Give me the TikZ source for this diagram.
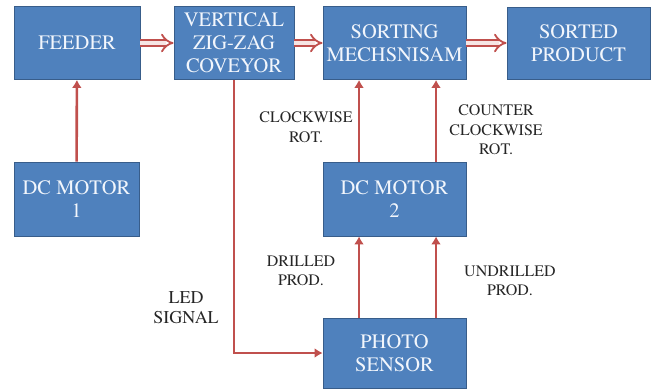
\documentclass[tikz,border=0pt]{standalone}
\usepackage{fontspec}
\setmainfont{TeX Gyre Termes}
\usetikzlibrary{arrows.meta}
\definecolor{boxblue}{HTML}{4F81BD}
\definecolor{boxedge}{HTML}{385D8A}
\definecolor{arrowred}{HTML}{C0504D}
\definecolor{boxtext}{HTML}{F2F6FC}
\tikzset{
  blk/.style={draw=boxedge, line width=0.9pt, fill=boxblue, text=boxtext, align=center,
    font=\fontsize{20.5}{23}\selectfont, inner sep=0pt},
  lbl/.style={align=center, text=black!85, font=\fontsize{16}{19.5}\selectfont, inner sep=0pt},
  redarrow/.style={draw=arrowred, line width=2.6pt, -{Latex[length=8pt,width=10pt]}},
  dblarrow/.style={draw=arrowred, double=arrowred!15!white, double distance=4.5pt, line width=1.8pt, -{Implies[length=8pt,width=20pt]}},
}
\begin{document}
\begin{tikzpicture}[x=1pt, y=-1pt]
\useasboundingbox (0,0) rectangle (652,390);
\node[blk, minimum width=126pt, minimum height=73pt] (feeder) at (77,43) {FEEDER};
\node[blk, minimum width=120pt, minimum height=73pt] (vert) at (234,43) {VERTICAL\\ZIG-ZAG\\COVEYOR};
\node[blk, minimum width=143pt, minimum height=73pt] (sort) at (394.5,43) {SORTING\\MECHSNISAM};
\node[blk, minimum width=143pt, minimum height=72pt] (sorted) at (578.5,43) {SORTED\\PRODUCT};
\node[blk, minimum width=125pt, minimum height=74pt] (dc1) at (76.5,199) {DC MOTOR\\1};
\node[blk, minimum width=143pt, minimum height=74pt] (dc2) at (394.5,199) {DC MOTOR\\2};
\node[blk, minimum width=143pt, minimum height=70pt] (photo) at (394.5,353) {PHOTO\\SENSOR};

\coordinate (cL) at (359,0);
\coordinate (cR) at (436,0);

\draw[dblarrow] (feeder) -- (vert);
\draw[dblarrow] (vert) -- (sort);
\draw[dblarrow] (sort) -- (sorted);

\draw[redarrow] (dc1) -- (feeder);
\draw[redarrow] (dc2.north -| cL) -- (sort.south -| cL);
\draw[redarrow] (dc2.north -| cR) -- (sort.south -| cR);
\draw[redarrow] (photo.north -| cL) -- (dc2.south -| cL);
\draw[redarrow] (photo.north -| cR) -- (dc2.south -| cR);
\draw[redarrow] (vert.south) |- (photo.west);

\node[lbl] (cw) at (306,127) {CLOCKWISE\\ROT.};
\node[lbl] (ccw) at (496,130) {COUNTER\\CLOCKWISE\\ROT.};
\node[lbl] (dr) at (301,271) {DRILLED\\PROD.};
\node[lbl] (udr) at (510,281) {UNDRILLED\\PROD.};
\node[lbl, font=\fontsize{18}{20}\selectfont] (led) at (186,308) {LED\\SIGNAL};
\end{tikzpicture}
\end{document}
